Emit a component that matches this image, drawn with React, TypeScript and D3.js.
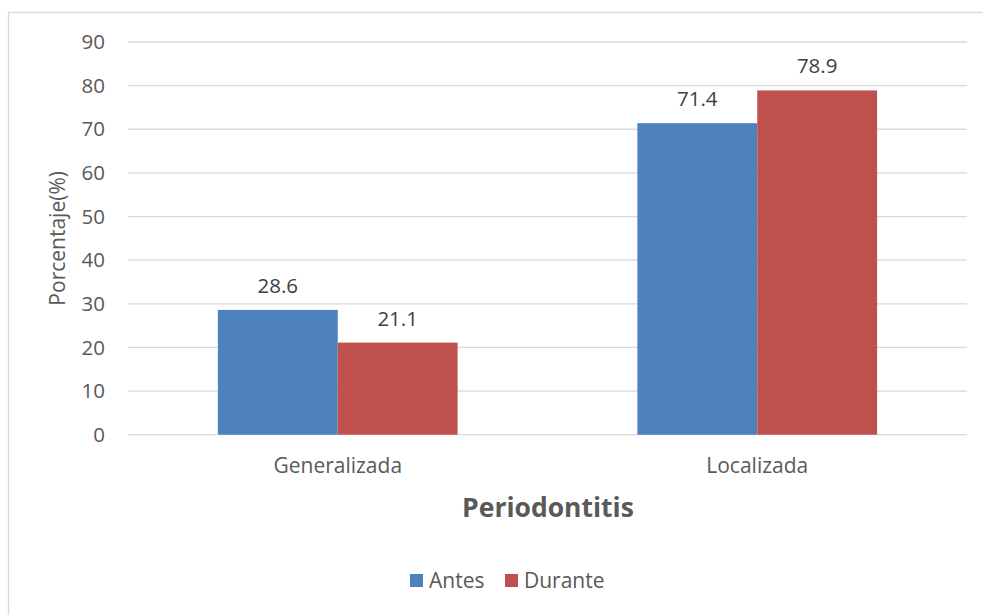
import React from "react";
import * as d3 from "d3";

const categories = ["Generalizada", "Localizada"];
const seriesNames = ["Antes", "Durante"];
const antes = [28.6, 71.4];
const durante = [21.1, 78.9];
const yTicks = [0, 10, 20, 30, 40, 50, 60, 70, 80, 90];
const colors = ["#4F81BD", "#C0504D"];

const W = 983;
const H = 615;
const FONT = "'Open Sans', 'Noto Sans', sans-serif";
const TXT = "#595959";

export default function App() {
  const plot = { left: 128, right: 967, top: 42, bottom: 434.7 };
  const x = d3.scaleBand<string>().domain(categories).range([plot.left, plot.right]).padding(0);
  const xs = d3
    .scaleBand<string>()
    .domain(seriesNames)
    .range([x.bandwidth() * (90 / 420), x.bandwidth() * (330 / 420)])
    .padding(0);
  const y = d3.scaleLinear().domain([0, 90]).range([plot.bottom, plot.top]);
  const values = [antes, durante];

  return (
    <svg
      width={W}
      height={H}
      style={{ position: "absolute", left: 0, top: 0, background: "#fff" }}
      fontFamily={FONT}
    >
      <rect x={8.5} y={12.5} width={990} height={620} fill="#fff" stroke="#D9D9D9" strokeWidth={1.3} />
      {yTicks.map((t) => (
        <g key={t}>
          <line x1={plot.left} x2={plot.right} y1={y(t)} y2={y(t)} stroke="#D9D9D9" strokeWidth={1.3} />
          <text x={105} y={y(t)} dy="0.35em" textAnchor="end" fontSize={20.5} fill={TXT}>
            {t}
          </text>
        </g>
      ))}
      {seriesNames.map((s, si) =>
        categories.map((c, ci) => {
          const bx = (x(c) as number) + (xs(s) as number);
          const v = values[si][ci];
          return (
            <g key={s + c}>
              <rect x={bx} y={y(v)} width={xs.bandwidth()} height={y(0) - y(v)} fill={colors[si]} />
              <text
                x={bx + xs.bandwidth() / 2}
                y={y(v) - 17}
                textAnchor="middle"
                fontSize={20.5}
                fill="#404040"
              >
                {v.toFixed(1)}
              </text>
            </g>
          );
        })
      )}
      {categories.map((c) => (
        <text
          key={c}
          x={(x(c) as number) + x.bandwidth() / 2}
          y={466}
          dy="0.35em"
          textAnchor="middle"
          fontSize={21}
          fill={TXT}
        >
          {c}
        </text>
      ))}
      <text
        transform={`translate(58, ${(plot.top + plot.bottom) / 2}) rotate(-90)`}
        textAnchor="middle"
        dy="0.35em"
        fontSize={21}
        fill={TXT}
      >
        Porcentaje(%)
      </text>
      <text x={548} y={508} dy="0.35em" textAnchor="middle" fontSize={26.5} fontWeight="bold" fill={TXT}>
        Periodontitis
      </text>
      <g>
        <rect x={410} y={574} width={13} height={13} fill={colors[0]} />
        <text x={429} y={581} dy="0.35em" fontSize={21} fill={TXT}>
          {seriesNames[0]}
        </text>
        <rect x={505} y={574} width={13} height={13} fill={colors[1]} />
        <text x={524} y={581} dy="0.35em" fontSize={21} fill={TXT}>
          {seriesNames[1]}
        </text>
      </g>
    </svg>
  );
}
